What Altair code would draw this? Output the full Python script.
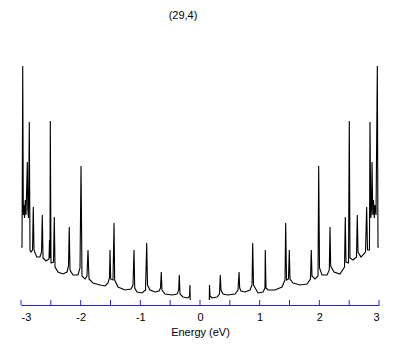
import altair as alt
import pandas as pd

# Energy (eV) and density of states (arbitrary units)
# valence side (E < 0)
energy_v = [
    -3.000, -2.983, -2.971, -2.961, -2.950, -2.941, -2.928, -2.916, -2.894, -2.886,
    -2.874, -2.861, -2.849, -2.832, -2.807, -2.794, -2.782, -2.737, -2.682, -2.656,
    -2.643, -2.631, -2.581, -2.531, -2.522, -2.514, -2.509, -2.497, -2.455, -2.442,
    -2.430, -2.380, -2.296, -2.229, -2.204, -2.191, -2.179, -2.129, -2.045, -2.011,
    -1.994, -1.978, -1.927, -1.894, -1.877, -1.860, -1.793, -1.676, -1.592, -1.542,
    -1.517, -1.508, -1.497, -1.458, -1.441, -1.430, -1.374, -1.257, -1.156, -1.123,
    -1.106, -1.094, -1.056, -0.972, -0.913, -0.893, -0.880, -0.838, -0.754, -0.687,
    -0.662, -0.649, -0.637, -0.587, -0.469, -0.385, -0.357, -0.347, -0.335, -0.285,
    -0.201, -0.176, -0.168, -0.164,
]
dos_v = [
    0.53, 0.53, 2.34, 0.85, 0.95, 0.82, 1.00, 0.85, 1.38, 0.90,
    0.82, 1.78, 0.50, 0.48, 0.50, 0.93, 0.50, 0.43, 0.43, 0.48,
    0.85, 0.42, 0.39, 0.41, 0.60, 0.42, 1.79, 0.37, 0.38, 0.83,
    0.33, 0.28, 0.26, 0.28, 0.34, 0.73, 0.30, 0.25, 0.25, 0.32,
    1.34, 0.24, 0.21, 0.24, 0.50, 0.21, 0.17, 0.15, 0.14, 0.17,
    0.22, 0.50, 0.21, 0.20, 0.77, 0.20, 0.13, 0.10, 0.11, 0.15,
    0.50, 0.12, 0.08, 0.07, 0.10, 0.57, 0.15, 0.10, 0.08, 0.09,
    0.12, 0.28, 0.10, 0.06, 0.05, 0.06, 0.10, 0.25, 0.06, 0.03,
    0.02, 0.04, 0.15, 0.00,
]
# conduction side (E > 0)
energy_c = [
    0.156, 0.159, 0.168, 0.201, 0.285, 0.327, 0.340, 0.352, 0.385, 0.469,
    0.587, 0.637, 0.654, 0.665, 0.687, 0.754, 0.838, 0.872, 0.883, 0.897,
    0.972, 1.056, 1.089, 1.094, 1.106, 1.140, 1.257, 1.374, 1.425, 1.436,
    1.450, 1.483, 1.497, 1.508, 1.559, 1.676, 1.793, 1.852, 1.865, 1.877,
    1.927, 1.978, 1.989, 2.003, 2.045, 2.129, 2.167, 2.179, 2.190, 2.246,
    2.346, 2.422, 2.435, 2.447, 2.489, 2.502, 2.514, 2.564, 2.623, 2.636,
    2.648, 2.698, 2.774, 2.793, 2.807, 2.840, 2.849, 2.862, 2.874, 2.883,
    2.896, 2.908, 2.921, 2.933, 2.950, 2.972, 2.983, 3.000,
]
dos_c = [
    0.00, 0.15, 0.04, 0.02, 0.03, 0.06, 0.25, 0.10, 0.06, 0.05,
    0.06, 0.10, 0.28, 0.12, 0.09, 0.08, 0.10, 0.15, 0.57, 0.15,
    0.07, 0.08, 0.12, 0.50, 0.12, 0.10, 0.10, 0.13, 0.20, 0.77,
    0.20, 0.21, 0.50, 0.21, 0.17, 0.15, 0.16, 0.21, 0.50, 0.24,
    0.21, 0.24, 1.34, 0.32, 0.25, 0.25, 0.30, 0.73, 0.34, 0.28,
    0.26, 0.33, 0.83, 0.38, 0.37, 1.79, 0.42, 0.40, 0.43, 0.85,
    0.48, 0.43, 0.48, 0.93, 0.50, 0.50, 1.78, 0.82, 0.90, 1.38,
    0.85, 1.00, 0.82, 0.95, 0.85, 2.34, 0.53, 0.53,
]
tick_values = [-3.0, -2.5, -2.0, -1.5, -1.0, -0.5, 0.0, 0.5, 1.0, 1.5, 2.0, 2.5, 3.0]
label_values = [-3, -2, -1, 0, 1, 2, 3]

df = pd.concat([
    pd.DataFrame({"E": energy_v, "D": dos_v, "side": "valence"}),
    pd.DataFrame({"E": energy_c, "D": dos_c, "side": "conduction"}),
], ignore_index=True)
df["i"] = range(len(df))
ticks_df = pd.DataFrame({"t": tick_values})

FONT = "Liberation Sans"
BLUE = "#2323cc"

xscale = alt.Scale(domain=[-3, 3], nice=False, zero=False)

line = alt.Chart(df).mark_line(color="black", strokeWidth=1.1, clip=True).encode(
    x=alt.X("E:Q", scale=xscale,
            axis=alt.Axis(values=label_values, title="Energy (eV)", ticks=False,
                          grid=False, domainColor=BLUE, domainWidth=1,
                          labelColor="black", labelFont=FONT, labelFontSize=11,
                          labelPadding=6, labelExpr="datum.value + ''",
                          titleFont=FONT, titleFontSize=11, titleFontWeight="normal",
                          titleColor="black", titlePadding=4)),
    y=alt.Y("D:Q", scale=alt.Scale(domain=[-0.05, 2.40], nice=False, zero=False), axis=None),
    detail="side:N",
    order="i:Q",
)

tick_marks = alt.Chart(ticks_df).mark_rule(color=BLUE, strokeWidth=1).encode(
    x=alt.X("t:Q", scale=xscale),
    y=alt.value(240),
    y2=alt.value(245),
)

chart = alt.layer(line, tick_marks).properties(
    width=358,
    height=245,
    autosize=alt.AutoSizeParams(type="none"),
    padding={"left": 13, "top": 52, "right": 22, "bottom": 35},
    background="white",
    title=alt.TitleParams(text="(29,4)", font=FONT, fontSize=11, fontWeight="normal",
                          color="black", offset=39, dx=-17, anchor="middle"),
).configure_view(stroke=None)

chart.save("out.html", embed_options={"renderer": "svg", "actions": False})
